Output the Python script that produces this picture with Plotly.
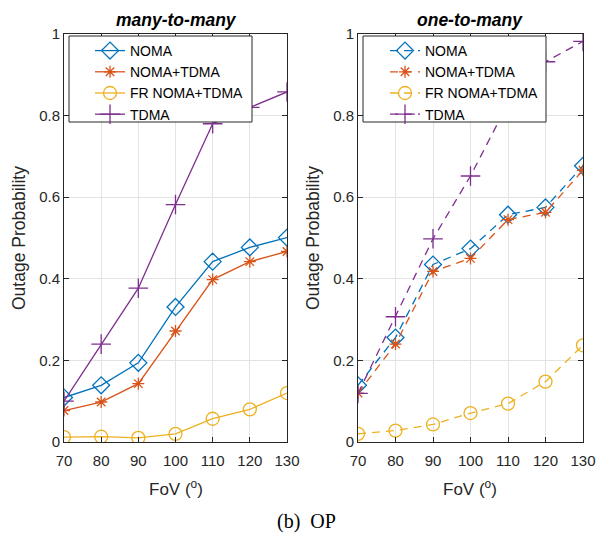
import plotly.graph_objects as go

fov = [70, 80, 90, 100, 110, 120, 130]
series_names = ["NOMA", "NOMA+TDMA", "FR NOMA+TDMA", "TDMA"]

# many-to-many
m2m_noma = [0.109, 0.139, 0.194, 0.331, 0.442, 0.477, 0.501]
m2m_noma_tdma = [0.077, 0.098, 0.143, 0.272, 0.398, 0.442, 0.467]
m2m_fr = [0.012, 0.013, 0.010, 0.020, 0.057, 0.080, 0.120]
m2m_tdma = [0.100, 0.240, 0.377, 0.582, 0.780, 0.820, 0.858]

# one-to-many
o2m_noma = [0.139, 0.256, 0.435, 0.474, 0.557, 0.575, 0.677]
o2m_noma_tdma = [0.120, 0.240, 0.418, 0.450, 0.545, 0.563, 0.666]
o2m_fr = [0.020, 0.028, 0.043, 0.071, 0.094, 0.148, 0.237]
o2m_tdma = [0.119, 0.307, 0.498, 0.652, 0.830, 0.932, 0.982]

colors = ["#0072BD", "#D95319", "#EDB120", "#7E2F8E"]
symbols = ["diamond-open", "asterisk-open", "circle-open", "cross-thin-open"]
sizes = [13, 10, 13, 14]

W, H = 597, 533
TXT = "#262626"
FONT = "Liberation Sans, Arial, Helvetica, sans-serif"

fig = go.Figure()

left = [m2m_noma, m2m_noma_tdma, m2m_fr, m2m_tdma]
right = [o2m_noma, o2m_noma_tdma, o2m_fr, o2m_tdma]

for i, ys in enumerate(left):
    fig.add_trace(go.Scatter(
        x=fov, y=ys, name=series_names[i], mode="lines+markers",
        line=dict(color=colors[i], width=1.3),
        marker=dict(symbol=symbols[i], size=sizes[i], color=colors[i],
                    line=dict(color=colors[i], width=1.3)),
        xaxis="x", yaxis="y", legend="legend"))

for i, ys in enumerate(right):
    fig.add_trace(go.Scatter(
        x=fov, y=ys, name=series_names[i], mode="lines+markers",
        line=dict(color=colors[i], width=1.3, dash="8px,6px"),
        marker=dict(symbol=symbols[i], size=sizes[i], color=colors[i],
                    line=dict(color=colors[i], width=1.3)),
        xaxis="x2", yaxis="y2", legend="legend2"))

def px(x):
    return x / W

def py(y):
    return 1 - y / H

ydom = [py(442), py(34)]
axis_common = dict(
    showgrid=True, gridcolor="#e3e3e3", gridwidth=1,
    showline=True, linecolor=TXT, linewidth=1, mirror="ticks",
    ticks="inside", ticklen=5, tickcolor=TXT,
    tickfont=dict(family=FONT, size=15, color=TXT),
    zeroline=False,
)

fig.update_layout(
    width=W, height=H,
    margin=dict(l=0, r=0, t=0, b=0, autoexpand=False),
    paper_bgcolor="white", plot_bgcolor="white",
    xaxis=dict(domain=[px(64), px(287)], range=[70, 130], tickvals=fov,
               anchor="y", ticklabelstandoff=5, **axis_common),
    yaxis=dict(domain=ydom, range=[0, 1], dtick=0.2, anchor="x", **axis_common),
    xaxis2=dict(domain=[px(358), px(583)], range=[70, 130], tickvals=fov,
                anchor="y2", ticklabelstandoff=5, **axis_common),
    yaxis2=dict(domain=ydom, range=[0, 1], dtick=0.2, anchor="x2", **axis_common),
    legend=dict(x=px(90), y=py(35), xanchor="left", yanchor="top",
                bgcolor="rgba(0,0,0,0)", borderwidth=0,
                font=dict(family=FONT, size=14, color="black"),
                tracegroupgap=0),
    legend2=dict(x=px(385), y=py(35), xanchor="left", yanchor="top",
                 bgcolor="rgba(0,0,0,0)", borderwidth=0,
                 font=dict(family=FONT, size=14, color="black"),
                 tracegroupgap=0),
    showlegend=True,
)

# legend boxes (white, drawn over the data like MATLAB)
for x0, x1 in [(69, 252), (363, 546)]:
    fig.add_shape(type="rect", xref="paper", yref="paper",
                  x0=px(x0), x1=px(x1), y0=py(122), y1=py(36),
                  fillcolor="white", line=dict(color=TXT, width=1), layer="above")

# titles
for txt, xx in [("<b><i>many-to-many</i></b>", 176), ("<b><i>one-to-many</i></b>", 470)]:
    fig.add_annotation(xref="paper", yref="paper", xanchor="center", yanchor="middle",
                       showarrow=False, font=dict(family=FONT, size=17.5, color="black"),
                       text=txt, x=px(xx), y=py(20))
# x titles
for xx in [176, 470]:
    fig.add_annotation(xref="paper", yref="paper", xanchor="center", yanchor="middle",
                       showarrow=False, font=dict(family=FONT, size=17, color=TXT),
                       text="FoV (<sup>o</sup>)", x=px(xx), y=py(488))
# y titles
for xx in [19, 313]:
    fig.add_annotation(xref="paper", yref="paper", xanchor="center", yanchor="middle",
                       showarrow=False, textangle=-90,
                       font=dict(family=FONT, size=17.5, color=TXT),
                       text="Outage Probability", x=px(xx), y=py(238))
# caption
fig.add_annotation(xref="paper", yref="paper", xanchor="center", yanchor="middle",
                   showarrow=False, font=dict(family="Liberation Serif, Times New Roman, serif",
                                              size=20, color="black"),
                   text="(b)\u2002OP", x=px(306.5), y=py(521))

fig.write_html("out.html")
